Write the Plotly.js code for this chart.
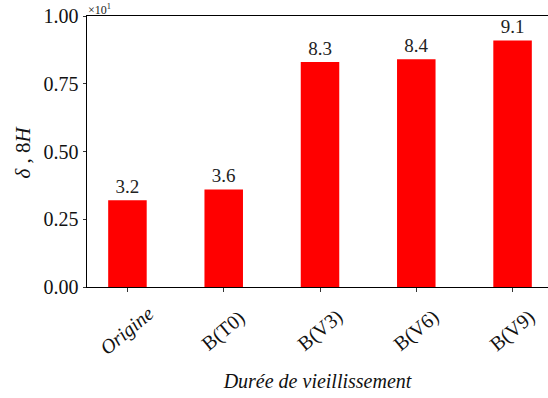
<!DOCTYPE html>
<html>
<head>
<meta charset="utf-8">
<script src="https://cdn.plot.ly/plotly-3.0.1.min.js"></script>
<style>html,body{margin:0;padding:0;background:#fff;}#chart{width:548px;height:398px;}</style>
</head>
<body>
<div id="chart"></div>
<script>
const categories = ["Origine", "B(T0)", "B(V3)", "B(V6)", "B(V9)"];
const tickLabels = ["<i>Origine</i>", "B(T0)", "B(V3)", "B(V6)", "B(V9)"];
const values = [3.2, 3.6, 8.3, 8.4, 9.1];
const scaleExp = 1;
const yTickVals = [0, 0.25, 0.5, 0.75, 1.0];

const FONT = "Liberation Serif, Times New Roman, serif";
const scaled = values.map(v => v / Math.pow(10, scaleExp));

const trace = {
  type: "bar",
  x: categories,
  y: scaled,
  width: 0.4,
  marker: {color: "#ff0000", line: {width: 0}},
  text: values.map(v => v.toFixed(1)),
  textposition: "outside",
  textfont: {family: FONT, size: 19, color: "#222"},
  cliponaxis: false,
  hoverinfo: "skip"
};

const annotations = categories.map((c, i) => ({
  x: c, xref: "x", y: -0.162, yref: "paper",
  text: tickLabels[i], showarrow: false, textangle: -40,
  xanchor: "center", yanchor: "middle",
  font: {family: FONT, size: 20, color: "#111"}
}));
annotations.push({
  x: 0, xref: "paper", y: 1.0, yref: "paper",
  text: "×10<sup>" + scaleExp + "</sup>", showarrow: false,
  xanchor: "left", yanchor: "bottom", xshift: -1, yshift: -3,
  font: {family: FONT, size: 12, color: "#222"}
});
annotations.push({
  x: -0.139, xref: "paper", y: 0.5, yref: "paper",
  text: "<i>δ</i> , 8<i>H</i>", showarrow: false, textangle: -90,
  xanchor: "center", yanchor: "middle",
  font: {family: FONT, size: 21, color: "#111"}
});

const layout = {
  width: 548, height: 398,
  margin: {l: 87, r: 0, t: 16, b: 111, autoexpand: false},
  paper_bgcolor: "#fff", plot_bgcolor: "#fff",
  showlegend: false,
  hovermode: false,
  font: {family: FONT, color: "#111"},
  xaxis: {
    type: "category",
    range: [-0.42, 4.368],
    showline: true, linecolor: "#000", linewidth: 1, mirror: true,
    ticks: "outside", ticklen: 3.5, tickwidth: 0.8, tickcolor: "#000",
    showticklabels: false, showgrid: false, zeroline: false,
    title: {text: "<i>Durée de vieillissement</i>", font: {family: FONT, size: 20, color: "#111"}, standoff: 83}
  },
  yaxis: {
    range: [0, 1.0],
    tickvals: yTickVals, tickformat: ".2f",
    showline: true, linecolor: "#000", linewidth: 1, mirror: false,
    ticks: "outside", ticklen: 3.5, tickwidth: 0.8, tickcolor: "#000",
    tickfont: {family: FONT, size: 20, color: "#111"},
    showgrid: false, zeroline: false
  },
  annotations: annotations
};

Plotly.newPlot("chart", [trace], layout, {displayModeBar: false, staticPlot: true});
</script>
</body>
</html>
